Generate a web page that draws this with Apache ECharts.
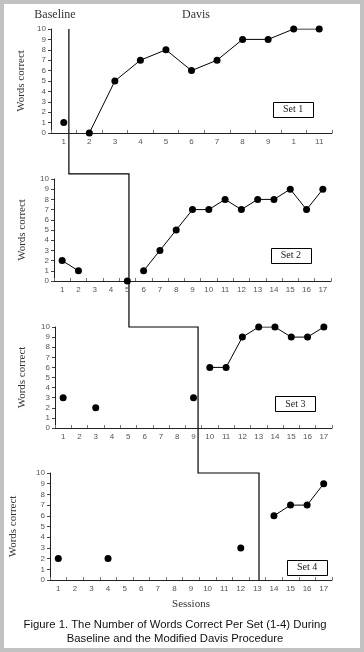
<!DOCTYPE html>
<html><head><meta charset="utf-8">
<script src="https://cdn.jsdelivr.net/npm/echarts@6/dist/echarts.min.js"></script>
<style>html,body{margin:0;padding:0;background:#fff;}#c{width:364px;height:652px;}</style>
</head><body><div id="c"></div>
<script>
// ---- data ----
const sessions1 = ['1','2','3','4','5','6','7','8','9','1','11'];
const sessions17 = ['1','2','3','4','5','6','7','8','9','10','11','12','13','14','15','16','17'];
const yTicks = [0,1,2,3,4,5,6,7,8,9,10];

const set1Baseline = [1, null, null, null, null, null, null, null, null, null, null];
const set1Davis    = [null, 0, 5, 7, 8, 6, 7, 9, 9, 10, 10];

const set2Baseline = [2, 1, null, null, 0, null, null, null, null, null, null, null, null, null, null, null, null];
const set2Davis    = [null, null, null, null, null, 1, 3, 5, 7, 7, 8, 7, 8, 8, 9, 7, 9];

const set3Baseline = [3, null, 2, null, null, null, null, null, 3, null, null, null, null, null, null, null, null];
const set3Davis    = [null, null, null, null, null, null, null, null, null, 6, 6, 9, 10, 10, 9, 9, 10];

const set4Baseline = [2, null, null, 2, null, null, null, null, null, null, null, 3, null, null, null, null, null];
const set4Davis    = [null, null, null, null, null, null, null, null, null, null, null, null, null, 6, 7, 7, 9];

// phase change positions (session index, 0-based, fractional)
const phaseChange = [0.2, 4.1, 8.28, 12.1];
const setLabels = ['Set 1', 'Set 2', 'Set 3', 'Set 4'];

// ---- layout ----
const grids = [
  {left: 51, top: 29, width: 281, height: 104},
  {left: 54, top: 179, width: 277, height: 102},
  {left: 55, top: 327, width: 277, height: 101},
  {left: 49, top: 473, width: 283, height: 107}
];
const nameGaps = [24, 26, 27, 31];
const cats = [sessions1, sessions17, sessions17, sessions17];
const baseData = [set1Baseline, set2Baseline, set3Baseline, set4Baseline];
const davisData = [set1Davis, set2Davis, set3Davis, set4Davis];

const chart = echarts.init(document.getElementById('c'), null, {renderer: 'canvas'});
const serif = '"Liberation Serif", "Times New Roman", serif';
const sans = '"Liberation Sans", Arial, sans-serif';

const xAxis = [], yAxis = [], series = [];
for (let i = 0; i < 4; i++) {
  xAxis.push({
    type: 'category', gridIndex: i, data: cats[i], boundaryGap: true,
    axisLine: {lineStyle: {color: '#222', width: 1}},
    axisTick: {show: true, inside: true, length: 3, lineStyle: {color: '#777'}},
    axisLabel: {fontFamily: sans, fontSize: 8, color: '#555', margin: 5, interval: 0},
    splitLine: {show: false}
  });
  yAxis.push({
    type: 'value', gridIndex: i, min: 0, max: 10, interval: 1,
    name: 'Words correct', nameLocation: 'middle', nameGap: nameGaps[i], nameRotate: 90,
    nameTextStyle: {fontFamily: serif, fontSize: 11, color: '#333'},
    axisLine: {show: true, lineStyle: {color: '#222', width: 1}},
    axisTick: {show: true, length: 3, lineStyle: {color: '#444'}},
    axisLabel: {fontFamily: sans, fontSize: 8, color: '#555', margin: 5,
      formatter: v => yTicks.indexOf(v) >= 0 ? String(v) : ''},
    splitLine: {show: false}
  });
  const common = {type: 'line', xAxisIndex: i, yAxisIndex: i, symbol: 'circle', symbolSize: 7,
    connectNulls: false, itemStyle: {color: '#000'}, lineStyle: {color: '#000', width: 1}, animation: false,
    showAllSymbol: true};
  series.push(Object.assign({data: baseData[i]}, common));
  series.push(Object.assign({data: davisData[i]}, common));
}

chart.setOption({
  backgroundColor: '#fff',
  animation: false,
  grid: grids.map(g => Object.assign({containLabel: false}, g)),
  xAxis, yAxis, series
});

function catX(i, pos) {
  const a = Math.floor(pos), f = pos - a;
  const x0 = chart.convertToPixel({xAxisIndex: i}, a);
  const x1 = chart.convertToPixel({xAxisIndex: i}, a + 1);
  return x0 + (x1 - x0) * f;
}
function valY(i, v) { return chart.convertToPixel({yAxisIndex: i}, v); }

const px = phaseChange.map((p, i) => catX(i, p));
const pts = [
  [px[0], valY(0, 10)],
  [px[0], valY(1, 10.5)],
  [px[1], valY(1, 10.5)],
  [px[1], valY(2, 10)],
  [px[2], valY(2, 10)],
  [px[2], valY(3, 10)],
  [px[3], valY(3, 10)],
  [px[3], valY(3, 0)]
];

// set label boxes positioned in data space
const boxPos = [[8.98, 2.26], [14.04, 2.5], [14.25, 2.38], [15.0, 1.2]];
const graphics = [
  {type: 'rect', shape: {x: 2, y: 2, width: 360, height: 648}, style: {fill: 'none', stroke: '#c2c2c2', lineWidth: 4}, silent: true},
  {type: 'polyline', shape: {points: pts}, style: {stroke: '#000', lineWidth: 1.2, fill: null}},
  {type: 'text', x: 55, y: 15, style: {text: 'Baseline', fontFamily: serif, fontSize: 12, fill: '#333', align: 'center', verticalAlign: 'middle'}},
  {type: 'text', x: 196, y: 15, style: {text: 'Davis', fontFamily: serif, fontSize: 12, fill: '#333', align: 'center', verticalAlign: 'middle'}},
  {type: 'text', x: 191, y: 604, style: {text: 'Sessions', fontFamily: serif, fontSize: 11, fill: '#333', align: 'center', verticalAlign: 'middle'}},
  {type: 'text', x: 175, y: 625, style: {text: 'Figure 1. The Number of Words Correct Per Set (1-4) During', fontFamily: sans, fontSize: 11.3, fill: '#111', align: 'center', verticalAlign: 'middle'}},
  {type: 'text', x: 175, y: 639, style: {text: 'Baseline and the Modified Davis Procedure', fontFamily: sans, fontSize: 11.3, fill: '#111', align: 'center', verticalAlign: 'middle'}}
];
boxPos.forEach((b, i) => {
  const cx = catX(i, b[0]), cy = valY(i, b[1]);
  graphics.push({type: 'rect', shape: {x: Math.round(cx - 20) + 0.5, y: Math.round(cy - 7.5) + 0.5, width: 40, height: 15},
    style: {fill: '#fff', stroke: '#000', lineWidth: 1}});
  graphics.push({type: 'text', x: cx, y: cy, style: {text: setLabels[i], fontFamily: serif, fontSize: 10, fill: '#222', align: 'center', verticalAlign: 'middle'}});
});
chart.setOption({graphic: graphics});
</script>
</body></html>
